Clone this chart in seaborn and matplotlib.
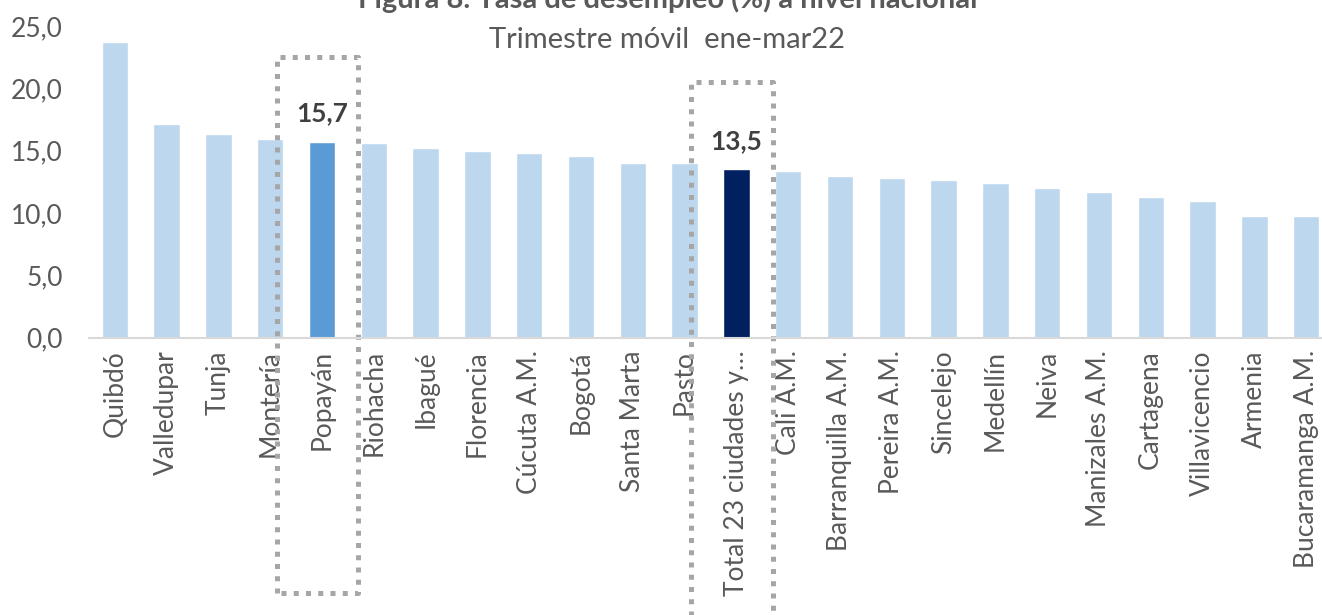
import numpy as np
import pandas as pd
import matplotlib
matplotlib.use("Agg")
import matplotlib.pyplot as plt
import seaborn as sns
from matplotlib.ticker import FuncFormatter

# data
ciudades = ["Quibdó", "Valledupar", "Tunja", "Montería", "Popayán", "Riohacha",
            "Ibagué", "Florencia", "Cúcuta A.M.", "Bogotá", "Santa Marta", "Pasto",
            "Total 23 ciudades y…", "Cali A.M.", "Barranquilla A.M.", "Pereira A.M.",
            "Sincelejo", "Medellín", "Neiva", "Manizales A.M.", "Cartagena",
            "Villavicencio", "Armenia", "Bucaramanga A.M."]
tasa = [23.7, 17.1, 16.35, 15.9, 15.7, 15.6, 15.2, 14.95, 14.8, 14.6, 14.05, 14.05,
        13.5, 13.4, 13.0, 12.8, 12.65, 12.4, 12.0, 11.7, 11.25, 11.0, 9.8, 9.8]
destacados = {"Popayán": "#5B9BD5", "Total 23 ciudades y…": "#002060"}
etiquetas = {"Popayán": "15,7", "Total 23 ciudades y…": "13,5"}

sns.set_style("white")
plt.rcParams["font.family"] = ["Lato", "DejaVu Sans"]
gris = "#595959"

df = pd.DataFrame({"ciudad": ciudades, "tasa": tasa})
colores = [destacados.get(c, "#BDD7EE") for c in ciudades]

fig = plt.figure(figsize=(13.22, 6.15), dpi=100)
ax = fig.add_axes([89 / 1322, 1 - 337.7 / 615, 1243 / 1322, (337.7 - 26) / 615])
sns.barplot(data=df, x="ciudad", y="tasa", hue="ciudad", palette=colores,
            legend=False, width=0.51, saturation=1, ax=ax)

ax.set_xlim(-0.5, len(ciudades) - 0.5)
ax.set_ylim(0, 25)
ax.set_yticks(np.arange(0, 25.1, 5))
ax.yaxis.set_major_formatter(FuncFormatter(lambda v, p: f"{v:.1f}".replace(".", ",")))
ax.set_xlabel("")
ax.set_ylabel("")
ax.tick_params(axis="y", length=0, pad=19, labelsize=19, labelcolor=gris)
ax.tick_params(axis="x", length=0, pad=9, labelsize=19, labelcolor=gris, rotation=90)
for s in ["top", "right", "left"]:
    ax.spines[s].set_visible(False)
ax.spines["bottom"].set_color("#D9D9D9")
ax.spines["bottom"].set_linewidth(1.5)

# labels over highlighted bars
for i, c in enumerate(ciudades):
    if c in etiquetas:
        ax.annotate(etiquetas[c], (i, tasa[i]), xytext=(0, 12), textcoords="offset points",
                    ha="center", va="bottom", fontsize=19, fontweight="bold", color="#404040")

# dotted boxes around highlighted categories
caja = dict(color="#A6A6A6", lw=3.6, linestyle=(0, (1, 1.45)), clip_on=False,
            solid_capstyle="butt", dash_capstyle="butt")
for c, top, bot in [("Popayán", 22.55, -20.5), ("Total 23 ciudades y…", 20.5, -30)]:
    i = ciudades.index(c)
    x0, x1 = i - 0.87, i + 0.70
    ax.plot([x0, x0, x1, x1, x0], [bot, top, top, bot, bot], **caja)

fig.text(668 / 1322, 1 + 1 / 615, "Figura 8. Tasa de desempleo (%) a nivel nacional",
         ha="center", va="center", fontsize=21, fontweight="bold", color=gris)
fig.text(667 / 1322, 1 - 40 / 615, "Trimestre móvil  ene-mar22",
         ha="center", va="center", fontsize=21, color=gris)

fig.savefig("out.png", dpi=100)
